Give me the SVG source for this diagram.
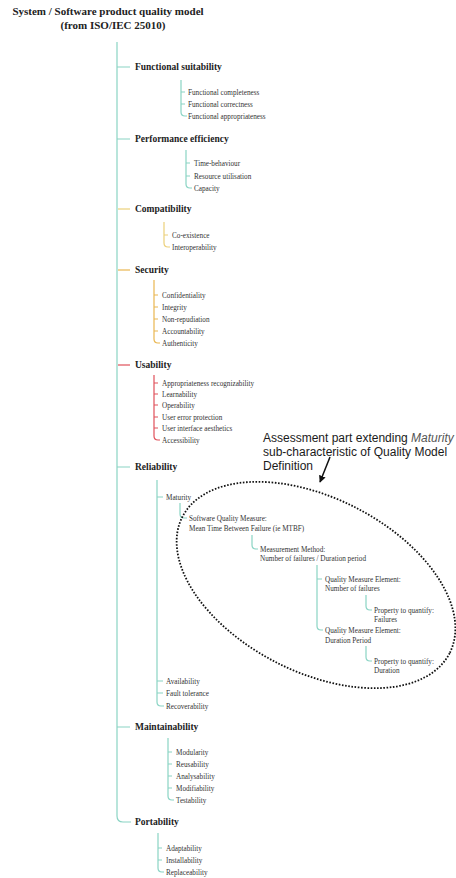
<svg xmlns="http://www.w3.org/2000/svg" width="456" height="878" viewBox="0 0 456 878">
  <style>
    .title { font-family: "Liberation Serif", "Times New Roman", serif; font-weight: bold; font-size: 11px; fill: #222; text-anchor: middle; }
    .cat { font-family: "Liberation Serif", "Times New Roman", serif; font-weight: bold; font-size: 9.5px; fill: #222; }
    .item { font-family: "Liberation Serif", "Times New Roman", serif; font-size: 7.2px; fill: #333; }
    .note { font-family: "Liberation Sans", Arial, sans-serif; font-size: 12px; fill: #1a1a1a; }
    .teal { stroke: #8ad4c4; stroke-width: 1.2; fill: none; }
    .yellow { stroke: #ecd07a; stroke-width: 1.2; fill: none; }
    .orange { stroke: #e9b650; stroke-width: 1.2; fill: none; }
    .red { stroke: #e0505a; stroke-width: 1.2; fill: none; }
  </style>
  <defs>
    <marker id="head" viewBox="0 0 10 10" refX="9" refY="5" markerWidth="7" markerHeight="7" orient="auto" markerUnits="userSpaceOnUse">
      <path d="M0,0 L10,5 L0,10 z" fill="#111"/>
    </marker>
  </defs>
  <rect width="456" height="878" fill="#fff"/>

  <!-- title -->
  <g id="title">
    <text class="title" x="108" y="15">System / Software product quality model</text>
    <text class="title" x="113" y="29">(from ISO/IEC 25010)</text>
  </g>

  <!-- tree connectors -->
  <g id="connectors">
    <!-- trunk -->
    <path class="teal" d="M117 42 V816 Q117 822 123 822 H131"/>
    <path class="teal" d="M117 67 H130 M117 139 H130 M117 467 H130 M117 727 H130"/>
    <path class="yellow" d="M118 209 H130"/>
    <path class="orange" d="M118 270 H130"/>
    <path class="red" d="M118 365 H130"/>

    <!-- functional suitability -->
    <path class="teal" d="M181 80 V112 Q181 116 185 116 H187 M181 92 H185 M181 104 H185"/>
    <!-- performance efficiency -->
    <path class="teal" d="M186 150 V184 Q186 188 190 188 H192 M186 163 H190 M186 176 H190"/>
    <!-- compatibility -->
    <path class="yellow" d="M164 222 V243 Q164 247 168 247 H170 M164 235 H168"/>
    <!-- security -->
    <path class="orange" d="M154 280 V339 Q154 343 158 343 H160 M154 295 H158 M154 307 H158 M154 319 H158 M154 331 H158"/>
    <!-- usability -->
    <path class="red" d="M154 375 V436 Q154 440 158 440 H160 M154 383 H158 M154 394 H158 M154 405 H158 M154 417 H158 M154 428 H158"/>
    <!-- reliability -->
    <path class="teal" d="M157 480 V702 Q157 706 161 706 H164 M157 497 H163 M157 681 H163 M157 693 H163"/>
    <path class="teal" d="M180 503 V514 Q180 518 184 518 H187"/>
    <path class="teal" d="M252 535 V545 Q252 549 256 549 H258"/>
    <path class="teal" d="M317 565 V626 Q317 630 321 630 H323 M317 579 H322"/>
    <path class="teal" d="M366 595 V606 Q366 610 370 610 H372"/>
    <path class="teal" d="M366 646 V657 Q366 661 370 661 H372"/>
    <!-- maintainability -->
    <path class="teal" d="M168 738 V796 Q168 800 172 800 H174 M168 752 H172 M168 764 H172 M168 776 H172 M168 788 H172"/>
    <!-- portability -->
    <path class="teal" d="M158 833 V868 Q158 872 162 872 H164 M158 848 H162 M158 860 H162"/>

    <!-- annotation outline and pointer -->
    <ellipse cx="316" cy="585" rx="150" ry="87" transform="rotate(27 316 585)" fill="none" stroke="#111" stroke-width="1.8" stroke-dasharray="1.6 1.6"/>
    <line x1="330" y1="457" x2="320" y2="482" stroke="#111" stroke-width="1.5" marker-end="url(#head)"/>
  </g>

  <g id="functional-suitability">
    <text class="cat" x="135" y="70">Functional suitability</text>
    <text class="item" x="188" y="94.5">Functional completeness</text>
    <text class="item" x="188" y="106.5">Functional correctness</text>
    <text class="item" x="188" y="118.5">Functional appropriateness</text>
  </g>

  <g id="performance-efficiency">
    <text class="cat" x="135" y="142">Performance efficiency</text>
    <text class="item" x="194" y="165.5">Time-behaviour</text>
    <text class="item" x="194" y="178.5">Resource utilisation</text>
    <text class="item" x="194" y="190.5">Capacity</text>
  </g>

  <g id="compatibility">
    <text class="cat" x="135" y="212">Compatibility</text>
    <text class="item" x="172" y="237.5">Co-existence</text>
    <text class="item" x="172" y="249.5">Interoperability</text>
  </g>

  <g id="security">
    <text class="cat" x="135" y="273">Security</text>
    <text class="item" x="162" y="297.5">Confidentiality</text>
    <text class="item" x="162" y="309.5">Integrity</text>
    <text class="item" x="162" y="321.5">Non-repudiation</text>
    <text class="item" x="162" y="333.5">Accountability</text>
    <text class="item" x="162" y="345.5">Authenticity</text>
  </g>

  <g id="usability">
    <text class="cat" x="135" y="368">Usability</text>
    <text class="item" x="162" y="385.5">Appropriateness recognizability</text>
    <text class="item" x="162" y="396.5">Learnability</text>
    <text class="item" x="162" y="407.5">Operability</text>
    <text class="item" x="162" y="419.5">User error protection</text>
    <text class="item" x="162" y="430.5">User interface aesthetics</text>
    <text class="item" x="162" y="442.5">Accessibility</text>
  </g>

  <g id="reliability">
    <text class="cat" x="135" y="470">Reliability</text>
    <text class="item" x="166" y="499.5">Maturity</text>
    <text class="item" x="166" y="683.5">Availability</text>
    <text class="item" x="166" y="695.5">Fault tolerance</text>
    <text class="item" x="166" y="708.5">Recoverability</text>
  </g>

  <g id="software-quality-measure">
    <text class="item" x="189" y="520.5">Software Quality Measure:</text>
    <text class="item" x="189" y="530.5">Mean Time Between Failure (ie MTBF)</text>
  </g>

  <g id="measurement-method">
    <text class="item" x="260" y="551.5">Measurement Method:</text>
    <text class="item" x="260" y="560.5">Number of failures / Duration period</text>
  </g>

  <g id="qme-failures">
    <text class="item" x="325" y="581.5">Quality Measure Element:</text>
    <text class="item" x="325" y="590.5">Number of failures</text>
  </g>

  <g id="property-failures">
    <text class="item" x="374" y="612.5">Property to quantify:</text>
    <text class="item" x="374" y="621.5">Failures</text>
  </g>

  <g id="qme-duration">
    <text class="item" x="325" y="632.5">Quality Measure Element:</text>
    <text class="item" x="325" y="642.5">Duration Period</text>
  </g>

  <g id="property-duration">
    <text class="item" x="374" y="663.5">Property to quantify:</text>
    <text class="item" x="374" y="672.5">Duration</text>
  </g>

  <g id="maintainability">
    <text class="cat" x="135" y="730">Maintainability</text>
    <text class="item" x="176" y="754.5">Modularity</text>
    <text class="item" x="176" y="766.5">Reusability</text>
    <text class="item" x="176" y="778.5">Analysability</text>
    <text class="item" x="176" y="790.5">Modifiability</text>
    <text class="item" x="176" y="802.5">Testability</text>
  </g>

  <g id="portability">
    <text class="cat" x="135" y="825">Portability</text>
    <text class="item" x="166" y="850.5">Adaptability</text>
    <text class="item" x="166" y="862.5">Installability</text>
    <text class="item" x="166" y="874.5">Replaceability</text>
  </g>

  <g id="annotation">
    <text class="note" x="263" y="442">Assessment part extending <tspan font-style="italic" fill="#555">Maturity</tspan></text>
    <text class="note" x="263" y="456">sub-characteristic of Quality Model</text>
    <text class="note" x="263" y="470">Definition</text>
  </g>
</svg>
